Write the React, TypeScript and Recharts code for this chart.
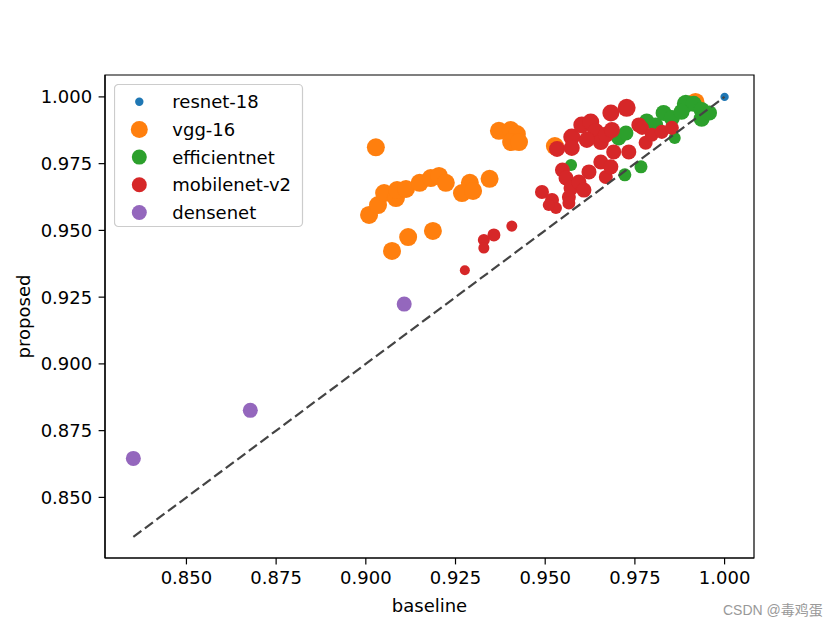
import React from 'react';
import { ScatterChart, Scatter, XAxis, YAxis, ZAxis, Legend, ReferenceArea } from 'recharts';

type Pt = [number, number, number]; // x, y, marker area (pt^2)

const seriesNames = ['resnet-18', 'vgg-16', 'efficientnet', 'mobilenet-v2', 'densenet'];
const seriesColors = ['#1f77b4', '#ff7f0e', '#2ca02c', '#d62728', '#9467bd'];
const xTicks = [0.85, 0.875, 0.9, 0.925, 0.95, 0.975, 1.0];
const yTicks = [0.85, 0.875, 0.9, 0.925, 0.95, 0.975, 1.0];
const xDomain = [0.8273, 1.0082];
const yDomain = [0.8273, 1.0082];
const xLabel = 'baseline';
const yLabel = 'proposed';
const diagonalX = [0.8352, 1.0];

const bluePts: Pt[] = [[1.0, 1.0, 36]];

const orangePts: Pt[] = [
  [0.9028, 0.9811, 168], [0.9009, 0.9558, 168], [0.9034, 0.9595, 168], [0.9051, 0.964, 168],
  [0.9084, 0.9621, 168], [0.9087, 0.9651, 168], [0.9112, 0.9655, 168], [0.915, 0.9678, 168],
  [0.9181, 0.9696, 168], [0.9204, 0.9704, 168], [0.9223, 0.9678, 168], [0.9268, 0.964, 168],
  [0.929, 0.9678, 168], [0.9299, 0.9648, 168], [0.9345, 0.9693, 168], [0.9073, 0.9423, 168],
  [0.9118, 0.9475, 168], [0.9187, 0.9498, 168], [0.9371, 0.9873, 168], [0.9404, 0.9876, 168],
  [0.9421, 0.9861, 168], [0.9405, 0.9831, 168], [0.9427, 0.9831, 168], [0.9527, 0.9816, 168],
  [0.9919, 0.9981, 168],
];

const greenPts: Pt[] = [
  [0.9572, 0.9745, 75], [0.9705, 0.9846, 117], [0.9725, 0.9865, 117], [0.9722, 0.9708, 88],
  [0.9767, 0.9738, 88], [0.9783, 0.991, 117], [0.9808, 0.9895, 117], [0.983, 0.994, 133],
  [0.9853, 0.9921, 133], [0.9861, 0.9846, 75], [0.9892, 0.9974, 168], [0.9914, 0.9974, 133],
  [0.9936, 0.9951, 133], [0.9936, 0.9918, 133], [0.9958, 0.994, 117], [0.988, 0.9944, 133],
];

const redPts: Pt[] = [
  [0.9276, 0.9351, 52], [0.9407, 0.9516, 63], [0.9329, 0.9464, 75], [0.9329, 0.9434, 63],
  [0.9357, 0.9483, 88],
  [0.9491, 0.9644, 102], [0.9519, 0.9614, 102], [0.953, 0.9584, 75], [0.951, 0.9595, 75],
  [0.9548, 0.9726, 117], [0.9558, 0.9696, 117], [0.9572, 0.9659, 117], [0.9566, 0.9625, 102],
  [0.9566, 0.9603, 88], [0.9594, 0.9681, 117], [0.9608, 0.9651, 117], [0.9622, 0.9719, 117],
  [0.9655, 0.9756, 117], [0.9669, 0.97, 102], [0.9683, 0.9738, 117], [0.9691, 0.9794, 117],
  [0.9733, 0.9794, 117], [0.9761, 0.9895, 117], [0.977, 0.9884, 102], [0.978, 0.9828, 102],
  [0.9797, 0.9858, 102], [0.9825, 0.9869, 102], [0.9853, 0.9884, 102],
  [0.9533, 0.9805, 133], [0.9574, 0.985, 150], [0.9574, 0.9809, 133], [0.9602, 0.9895, 150],
  [0.9627, 0.9906, 150], [0.9641, 0.9869, 150], [0.9655, 0.9831, 133], [0.9616, 0.9839, 133],
  [0.9669, 0.9858, 133], [0.9683, 0.994, 150], [0.9686, 0.9876, 133], [0.9727, 0.9959, 168],
];

const purplePts: Pt[] = [[0.8352, 0.8646, 117], [0.8678, 0.8826, 117], [0.9107, 0.9224, 117]];

const allSeries: Pt[][] = [bluePts, orangePts, greenPts, redPts, purplePts];

const toRows = (pts: Pt[]) => pts.map(([x, y, z]) => ({ x, y, z }));
const diagonalRows = diagonalX.map((v) => ({ x: v, y: v, z: 0 }));

const FONT = 'DejaVu Sans';
const FS = 18;
const legendRadii = [4.2, 8.5, 7.5, 7.5, 7.5];

const LegendBox = () => (
  <svg width={190} height={144} style={{ display: 'block' }}>
    <rect x={0.5} y={0.5} width={188} height={142} rx={4} ry={4} fill="rgba(255,255,255,0.8)" stroke="#cccccc" strokeWidth={1.2} />
    {seriesNames.map((name, i) => {
      const cy = 17.7 + i * 27.7;
      return (
        <g key={name}>
          <circle cx={25.3} cy={cy} r={legendRadii[i]} fill={seriesColors[i]} />
          <text x={58.3} y={cy + 6.5} fontFamily={FONT} fontSize={FS} fill="#000">{name}</text>
        </g>
      );
    })}
  </svg>
);

const YLabelContent = (props: any) => {
  const vb = props.viewBox || { x: 0, y: 0, width: 0, height: 0 };
  const cx = vb.x + 22;
  const cy = vb.y + vb.height / 2;
  return (
    <text x={cx} y={cy} transform={`rotate(-90, ${cx}, ${cy})`} textAnchor="middle" fontFamily={FONT} fontSize={FS} fill="#000">
      {yLabel}
    </text>
  );
};

const XLabelContent = (props: any) => {
  const vb = props.viewBox || { x: 0, y: 0, width: 0, height: 0 };
  const cx = vb.x + vb.width / 2;
  const cy = vb.y + 54;
  return (
    <text x={cx} y={cy} textAnchor="middle" fontFamily={FONT} fontSize={FS} fill="#000">
      {xLabel}
    </text>
  );
};

export default function App() {
  const tickStyle = { fill: '#000', fontSize: FS, fontFamily: FONT };
  return (
    <div style={{ position: 'relative', width: 830, height: 620 }}>
      <ScatterChart
        width={830}
        height={620}
        margin={{ top: 67, right: 84, bottom: 20, left: 0 }}
        style={{ fontFamily: FONT }}
      >
        <XAxis
          type="number"
          dataKey="x"
          domain={xDomain}
          ticks={xTicks}
          allowDataOverflow
          tickFormatter={(v: number) => v.toFixed(3)}
          height={50}
          tickSize={6.4}
          tickMargin={6.4}
          stroke="#000"
          strokeWidth={1.2}
          tick={tickStyle}
          label={<XLabelContent />}
        />
        <YAxis
          type="number"
          dataKey="y"
          domain={yDomain}
          ticks={yTicks}
          allowDataOverflow
          tickFormatter={(v: number) => v.toFixed(3)}
          width={97}
          tickSize={6.4}
          tickMargin={6.4}
          stroke="#000"
          strokeWidth={1.2}
          tick={tickStyle}
          label={<YLabelContent />}
        />
        <ZAxis type="number" dataKey="z" domain={[0, 200]} range={[0, 303]} />
        <ReferenceArea x1={xDomain[0]} x2={xDomain[1]} y1={yDomain[0]} y2={yDomain[1]} fill="none" stroke="#000" strokeWidth={1.2} ifOverflow="visible" />
        {allSeries.map((pts, i) => (
          <Scatter
            key={seriesNames[i]}
            name={seriesNames[i]}
            data={toRows(pts)}
            fill={seriesColors[i]}
            isAnimationActive={false}
          />
        ))}
        <Scatter
          name="diagonal"
          data={diagonalRows}
          fill="#444444"
          line={{ stroke: '#444444', strokeWidth: 2.2, strokeDasharray: '10 4.4' }}
          lineType="joint"
          shape={() => <g />}
          legendType="none"
          isAnimationActive={false}
        />
        <Legend
          layout="vertical"
          align="center"
          verticalAlign="middle"
          wrapperStyle={{ left: 106, top: 76, width: 190, height: 144 }}
          content={() => <LegendBox />}
        />
      </ScatterChart>
      <div
        style={{
          position: 'absolute',
          left: 715,
          top: 593,
          fontSize: 14,
          lineHeight: '18px',
          color: '#999999',
          fontFamily: '"Liberation Sans", "Noto Sans CJK SC", sans-serif',
          whiteSpace: 'nowrap',
        }}
      >
        CSDN @毒鸡蛋
      </div>
    </div>
  );
}
